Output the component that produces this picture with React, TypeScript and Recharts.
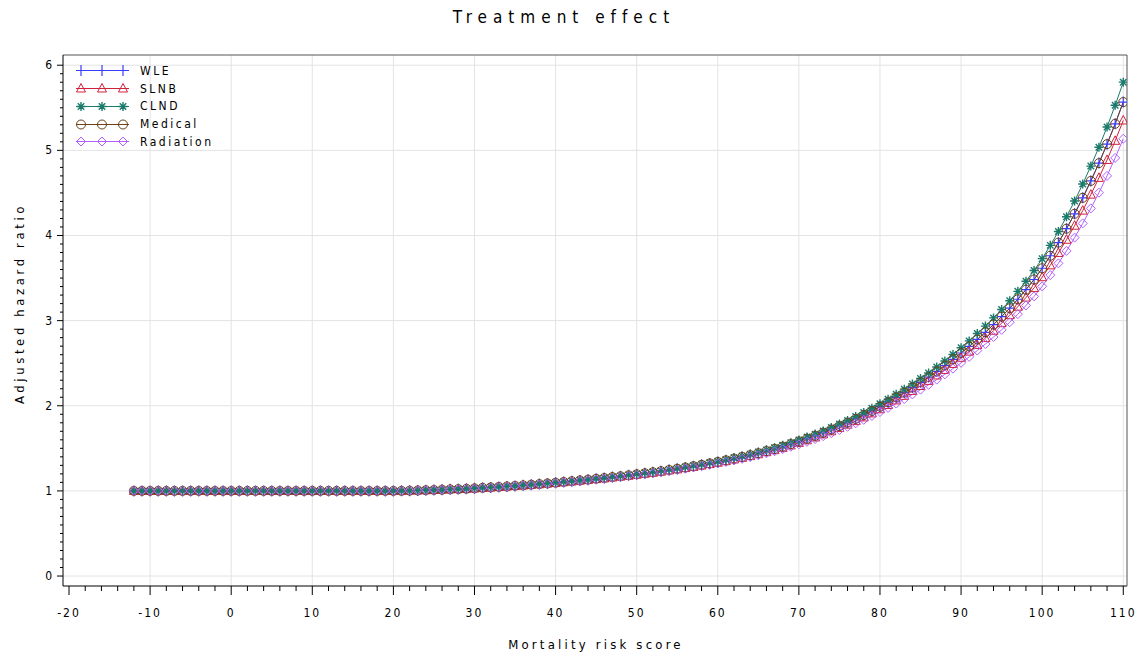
import React from 'react'
import { LineChart, Line, XAxis, YAxis, CartesianGrid, Legend } from 'recharts'

const xValues = [
  -12, -11, -10, -9, -8, -7, -6, -5, -4, -3, -2, -1, 0, 1, 2, 3, 4, 5, 6, 7, 8, 9,
  10, 11, 12, 13, 14, 15, 16, 17, 18, 19, 20, 21, 22, 23, 24, 25, 26, 27, 28, 29,
  30, 31, 32, 33, 34, 35, 36, 37, 38, 39, 40, 41, 42, 43, 44, 45, 46, 47, 48, 49,
  50, 51, 52, 53, 54, 55, 56, 57, 58, 59, 60, 61, 62, 63, 64, 65, 66, 67, 68, 69,
  70, 71, 72, 73, 74, 75, 76, 77, 78, 79, 80, 81, 82, 83, 84, 85, 86, 87, 88, 89,
  90, 91, 92, 93, 94, 95, 96, 97, 98, 99, 100, 101, 102, 103, 104, 105, 106, 107,
  108, 109, 110,
]

// -12 .. 19 are flat at 1
const flat = [
  1, 1, 1, 1, 1, 1, 1, 1, 1, 1, 1, 1, 1, 1, 1, 1,
  1, 1, 1, 1, 1, 1, 1, 1, 1, 1, 1, 1, 1, 1, 1, 1,
]

const wle = [
  ...flat,
  1.000, 1.001, 1.003, 1.005, 1.008, 1.011, 1.014, 1.018, 1.021, 1.025,
  1.030, 1.036, 1.041, 1.047, 1.052, 1.059, 1.065, 1.073, 1.080, 1.088,
  1.096, 1.105, 1.114, 1.123, 1.132, 1.142, 1.151, 1.162, 1.172, 1.183,
  1.195, 1.207, 1.219, 1.232, 1.246, 1.260, 1.275, 1.290, 1.306, 1.323,
  1.340, 1.359, 1.379, 1.399, 1.420, 1.443, 1.468, 1.493, 1.520, 1.550,
  1.581, 1.613, 1.647, 1.684, 1.721, 1.761, 1.802, 1.846, 1.891, 1.939,
  1.990, 2.042, 2.098, 2.155, 2.214, 2.275, 2.337, 2.404, 2.472, 2.545,
  2.620, 2.697, 2.779, 2.863, 2.954, 3.047, 3.146, 3.251, 3.364, 3.483,
  3.615, 3.762, 3.916, 4.080, 4.255, 4.442, 4.641, 4.850, 5.073, 5.312,
  5.567,
]

const slnb = [
  ...flat,
  1.000, 1.001, 1.003, 1.005, 1.008, 1.011, 1.014, 1.018, 1.021, 1.024,
  1.029, 1.035, 1.040, 1.046, 1.051, 1.058, 1.063, 1.071, 1.078, 1.086,
  1.094, 1.102, 1.111, 1.120, 1.129, 1.139, 1.147, 1.158, 1.168, 1.178,
  1.190, 1.202, 1.213, 1.226, 1.240, 1.253, 1.268, 1.282, 1.298, 1.315,
  1.331, 1.349, 1.369, 1.388, 1.409, 1.431, 1.455, 1.479, 1.505, 1.534,
  1.564, 1.595, 1.628, 1.664, 1.700, 1.738, 1.778, 1.820, 1.863, 1.910,
  1.959, 2.009, 2.063, 2.117, 2.174, 2.232, 2.292, 2.356, 2.421, 2.491,
  2.563, 2.636, 2.714, 2.795, 2.881, 2.970, 3.064, 3.164, 3.271, 3.384,
  3.510, 3.649, 3.795, 3.950, 4.115, 4.292, 4.480, 4.677, 4.887, 5.112,
  5.351,
]

const clnd = [
  ...flat,
  1.000, 1.001, 1.003, 1.005, 1.008, 1.011, 1.014, 1.018, 1.022, 1.026,
  1.031, 1.037, 1.042, 1.048, 1.053, 1.060, 1.067, 1.075, 1.082, 1.090,
  1.098, 1.108, 1.117, 1.126, 1.135, 1.146, 1.155, 1.166, 1.176, 1.188,
  1.200, 1.212, 1.225, 1.238, 1.253, 1.267, 1.282, 1.298, 1.314, 1.332,
  1.349, 1.369, 1.390, 1.410, 1.432, 1.456, 1.482, 1.507, 1.535, 1.566,
  1.598, 1.632, 1.667, 1.705, 1.744, 1.785, 1.828, 1.873, 1.920, 1.970,
  2.023, 2.077, 2.136, 2.195, 2.257, 2.320, 2.385, 2.455, 2.526, 2.603,
  2.681, 2.762, 2.848, 2.936, 3.032, 3.130, 3.234, 3.344, 3.463, 3.589,
  3.728, 3.884, 4.046, 4.220, 4.405, 4.604, 4.815, 5.037, 5.274, 5.529,
  5.801,
]

const medical = [
  ...flat,
  1.000, 1.001, 1.003, 1.005, 1.008, 1.011, 1.014, 1.018, 1.021, 1.025,
  1.030, 1.036, 1.041, 1.047, 1.052, 1.059, 1.065, 1.073, 1.080, 1.088,
  1.096, 1.105, 1.114, 1.123, 1.132, 1.142, 1.151, 1.162, 1.172, 1.183,
  1.195, 1.207, 1.219, 1.232, 1.246, 1.260, 1.275, 1.290, 1.306, 1.323,
  1.340, 1.359, 1.379, 1.399, 1.420, 1.443, 1.468, 1.493, 1.520, 1.550,
  1.581, 1.613, 1.647, 1.684, 1.721, 1.761, 1.802, 1.846, 1.891, 1.939,
  1.990, 2.042, 2.098, 2.155, 2.214, 2.275, 2.337, 2.404, 2.472, 2.545,
  2.620, 2.697, 2.779, 2.863, 2.954, 3.047, 3.146, 3.251, 3.364, 3.483,
  3.615, 3.762, 3.916, 4.080, 4.255, 4.442, 4.641, 4.850, 5.073, 5.312,
  5.567,
]

const radiation = [
  ...flat,
  1.000, 1.001, 1.003, 1.005, 1.008, 1.010, 1.013, 1.017, 1.020, 1.024,
  1.029, 1.034, 1.039, 1.045, 1.049, 1.056, 1.062, 1.069, 1.076, 1.084,
  1.091, 1.100, 1.108, 1.117, 1.125, 1.135, 1.143, 1.154, 1.163, 1.174,
  1.185, 1.196, 1.208, 1.220, 1.233, 1.246, 1.261, 1.275, 1.290, 1.306,
  1.322, 1.340, 1.358, 1.377, 1.397, 1.418, 1.442, 1.465, 1.490, 1.518,
  1.547, 1.577, 1.609, 1.643, 1.678, 1.715, 1.753, 1.794, 1.835, 1.880,
  1.927, 1.975, 2.026, 2.079, 2.133, 2.189, 2.246, 2.307, 2.369, 2.436,
  2.504, 2.574, 2.649, 2.725, 2.807, 2.892, 2.981, 3.076, 3.178, 3.285,
  3.403, 3.535, 3.673, 3.819, 3.975, 4.142, 4.318, 4.503, 4.700, 4.911,
  5.136,
]

const majorXTicks = [-20, -10, 0, 10, 20, 30, 40, 50, 60, 70, 80, 90, 100, 110]
const majorYTicks = [0, 1, 2, 3, 4, 5, 6]
const gridX = [-10, 0, 10, 20, 30, 40, 50, 60, 70, 80, 90, 100, 110]

// minor ticks: every 2 on x, every 0.1 on y
const xTicks: number[] = []
for (let v = -20; v <= 110; v += 2) xTicks.push(v)
const yTicks: number[] = []
for (let i = 0; i <= 60; i++) yTicks.push(i / 10)

const series = [
  { key: 'wle', name: 'WLE', color: '#3d3dff', shape: 'plus' },
  { key: 'slnb', name: 'SLNB', color: '#d0203c', shape: 'triangle' },
  { key: 'clnd', name: 'CLND', color: '#1b7a6c', shape: 'star' },
  { key: 'medical', name: 'Medical', color: '#6b4215', shape: 'circle' },
  { key: 'radiation', name: 'Radiation', color: '#b060ff', shape: 'diamond' },
]

const data = xValues.map((x, i) => ({
  x,
  wle: wle[i],
  slnb: slnb[i],
  clnd: clnd[i],
  medical: medical[i],
  radiation: radiation[i],
}))

const font = "'Liberation Sans Narrow', 'DejaVu Sans Condensed', 'Roboto Condensed', sans-serif"

function Marker({ cx, cy, shape, color }: { cx: number; cy: number; shape: string; color: string }) {
  if (cx == null || cy == null || isNaN(cx) || isNaN(cy)) return null
  const r = 4.5
  switch (shape) {
    case 'plus':
      return <path d={`M${cx - r},${cy}H${cx + r}M${cx},${cy - r - 1}V${cy + r + 1}`} stroke={color} strokeWidth={1.2} fill="none" />
    case 'triangle':
      return <path d={`M${cx},${cy - r - 0.5}L${cx + r},${cy + r - 1}L${cx - r},${cy + r - 1}Z`} stroke={color} fill="none" />
    case 'star': {
      const d = r * 0.72
      return (
        <path
          d={`M${cx - r},${cy}H${cx + r}M${cx},${cy - r}V${cy + r}M${cx - d},${cy - d}L${cx + d},${cy + d}M${cx - d},${cy + d}L${cx + d},${cy - d}`}
          stroke={color}
          strokeWidth={1.4}
          fill="none"
        />
      )
    }
    case 'circle':
      return <circle cx={cx} cy={cy} r={r} stroke={color} fill="none" />
    case 'diamond':
      return <path d={`M${cx},${cy - r}L${cx + r},${cy}L${cx},${cy + r}L${cx - r},${cy}Z`} stroke={color} fill="none" />
    default:
      return null
  }
}

// tickSize/tickMargin are 0, so (x, y) is the point on the axis line
function XTick(props: any) {
  const { x, y, payload } = props
  const major = majorXTicks.includes(payload.value)
  return (
    <g>
      <line x1={x} y1={y} x2={x} y2={y + (major ? 9 : 5)} stroke="#000" />
      {major && (
        <text x={x} y={y + 31} textAnchor="middle" fontFamily={font} fontSize={12} letterSpacing={2} fill="#000">
          {payload.value}
        </text>
      )}
    </g>
  )
}

function YTick(props: any) {
  const { x, y, payload } = props
  const v = Math.round(payload.value * 10) / 10
  const major = majorYTicks.includes(v)
  return (
    <g>
      <line x1={x} y1={y} x2={x - (major ? 6 : 3)} y2={y} stroke="#000" />
      {major && (
        <text x={x - 11} y={y + 4} textAnchor="end" fontFamily={font} fontSize={12} fill="#000">
          {v}
        </text>
      )}
    </g>
  )
}

function LegendBox() {
  return (
    <div style={{ fontFamily: font, fontSize: 12, letterSpacing: 2.5, color: '#000' }}>
      {series.map((s) => (
        <div key={s.key} style={{ display: 'flex', alignItems: 'center', height: 17.75 }}>
          <svg width={64} height={17} style={{ display: 'block' }}>
            <line x1={0} y1={8.5} x2={53} y2={8.5} stroke={s.color} />
            {[5, 26, 47].map((mx) => (
              <Marker key={mx} cx={mx} cy={8.5} shape={s.shape} color={s.color} />
            ))}
          </svg>
          <span>{s.name}</span>
        </div>
      ))}
    </div>
  )
}

export default function App() {
  return (
    <div style={{ position: 'absolute', left: 0, top: 0, width: 1140, height: 659, background: '#fff' }}>
      <div
        style={{
          position: 'absolute', left: 0, top: 7, width: 1128, textAlign: 'center',
          fontFamily: font, fontSize: 17, letterSpacing: 6, color: '#000',
        }}
      >
        Treatment effect
      </div>
      <div
        style={{
          position: 'absolute', left: 0, top: 637, width: 1192, textAlign: 'center',
          fontFamily: font, fontSize: 13, letterSpacing: 3.2, color: '#000',
        }}
      >
        Mortality risk score
      </div>
      <div style={{ position: 'absolute', left: 19, top: 305, width: 0, height: 0 }}>
        <div
          style={{
            position: 'absolute', left: -150, top: -9, width: 300, textAlign: 'center',
            transform: 'rotate(-90deg)', fontFamily: font, fontSize: 13, letterSpacing: 3.6, color: '#000',
          }}
        >
          Adjusted hazard ratio
        </div>
      </div>
      <LineChart
        width={1140}
        height={659}
        data={data}
        margin={{ top: 54, right: 12, bottom: 33, left: 13 }}
        style={{ position: 'absolute', left: 0, top: 0 }}
      >
        <CartesianGrid
          stroke="#e3e3e3"
          horizontalValues={majorYTicks}
          verticalValues={gridX}
        />
        <XAxis
          dataKey="x"
          type="number"
          domain={[-20.74, 110.46]}
          allowDataOverflow
          ticks={xTicks}
          interval={0}
          height={40}
          tickSize={0}
          tickMargin={0}
          tickLine={false}
          tick={<XTick />}
          axisLine={{ stroke: '#000' }}
        />
        <XAxis
          xAxisId="top"
          orientation="top"
          dataKey="x"
          type="number"
          domain={[-20.74, 110.46]}
          allowDataOverflow
          height={1}
          tick={false}
          tickLine={false}
          axisLine={{ stroke: '#555' }}
        />
        <YAxis
          type="number"
          domain={[-0.117, 6.12]}
          allowDataOverflow
          ticks={yTicks}
          interval={0}
          width={50}
          tickSize={0}
          tickMargin={0}
          tickLine={false}
          tick={<YTick />}
          axisLine={{ stroke: '#000' }}
        />
        <YAxis
          yAxisId="right"
          orientation="right"
          type="number"
          domain={[-0.117, 6.12]}
          allowDataOverflow
          width={1}
          tick={false}
          tickLine={false}
          axisLine={{ stroke: '#555' }}
        />
        <Legend
          layout="vertical"
          align="center"
          verticalAlign="middle"
          wrapperStyle={{ left: 76, top: 62, width: 'auto' }}
          content={() => <LegendBox />}
        />
        {series.map((s) => (
          <Line
            key={s.key}
            dataKey={s.key}
            name={s.name}
            stroke={s.color}
            strokeWidth={1}
            isAnimationActive={false}
            activeDot={false}
            dot={(p: any) => <Marker key={`${s.key}-${p.index}`} cx={p.cx} cy={p.cy} shape={s.shape} color={s.color} />}
          />
        ))}
      </LineChart>
    </div>
  )
}
